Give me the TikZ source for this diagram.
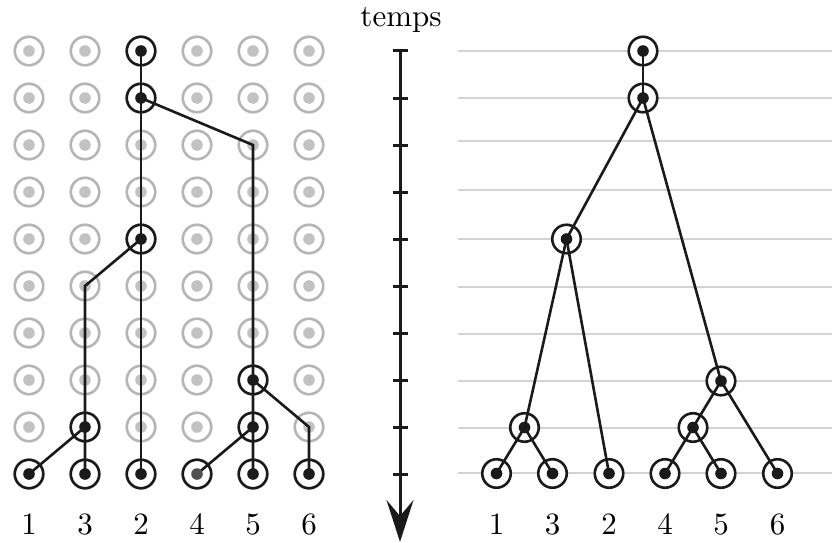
\documentclass[tikz,border=0pt]{standalone}
\usetikzlibrary{arrows.meta}
\definecolor{ringgray}{HTML}{B5B5B5}
\definecolor{dotgray}{HTML}{C2C2C2}
\definecolor{linegray}{HTML}{D3D3D3}
\definecolor{ink}{HTML}{1A1A1A}
\definecolor{darkdot}{HTML}{505050}
\newcommand\bigtxt[1]{\scalebox{3.1}{#1}}
\begin{document}
\begin{tikzpicture}[x=1pt,y=-1pt,
  ring/.style={circle,minimum size=28.5pt,inner sep=0pt,line width=2.6pt,fill=white},
  gring/.style={ring,draw=ringgray},
  bring/.style={ring,draw=ink},
  edge/.style={draw=ink,line width=2.6pt},
  hline/.style={draw=linegray,line width=2.8pt},
  tick/.style={draw=ink,line width=3pt},
  lbl/.style={font=\fontsize{10}{12}\selectfont,anchor=base,inner sep=0pt}]
\useasboundingbox (0,0) rectangle (832,543);

% right-hand horizontal grey lines
\foreach \y [count=\r from 0] in {51,98,141,190,239,287,334,381,428,473}{
  \coordinate (hl\r) at (458,\y);
  \coordinate (hr\r) at (832,\y);
  \draw[hline] (hl\r) -- (hr\r);
}

% left grid
\foreach \y [count=\r from 0] in {51,98,145,192,239,286,333,380,427,474}{
  \foreach \x [count=\c from 0] in {29,85,141,197,253,309}{
    \node[gring] (g\c-\r) at (\x,\y) {};
    \fill[dotgray] (g\c-\r.center) circle (5.8pt);
  }
}
\foreach \p in {2-0,2-1,2-4,4-7,1-8,4-8,0-9,1-9,2-9,3-9,4-9,5-9}{
  \node[bring] (b\p) at (g\p) {};
}

% right tree nodes
\node[bring] (L1) at (496.5,473.5) {};
\node[bring] (L3) at (552.5,473.5) {};
\node[bring] (L2) at (609,473.5) {};
\node[bring] (L4) at (665,473.5) {};
\node[bring] (L5) at (721,473.5) {};
\node[bring] (L6) at (777.5,473.5) {};
\node[bring] (n13) at (524.5,427.5) {};
\node[bring] (n45) at (693,427.5) {};
\node[bring] (n456) at (721,381) {};
\node[bring] (n132) at (566.5,239) {};
\node[bring] (c) at (643,98) {};
\node[bring] (root) at (643,51) {};

% left edges
\draw[edge] (g2-0.center) -- (g2-9.center);
\draw[edge] (g2-1.center) -- (g4-2.center) -- (g4-9.center);
\draw[edge] (g4-7.center) -- (g5-8.center) -- (g5-9.center);
\draw[edge] (g4-8.center) -- (g3-9.center);
\draw[edge] (g2-4.center) -- (g1-5.center) -- (g1-9.center);
\draw[edge] (g1-8.center) -- (g0-9.center);

% right edges
\draw[edge] (root.center) -- (c.center);
\draw[edge] (c.center) -- (n132.center);
\draw[edge] (c.center) -- (n456.center);
\draw[edge] (n132.center) -- (n13.center);
\draw[edge] (n132.center) -- (L2.center);
\draw[edge] (n13.center) -- (L1.center);
\draw[edge] (n13.center) -- (L3.center);
\draw[edge] (n456.center) -- (n45.center);
\draw[edge] (n456.center) -- (L6.center);
\draw[edge] (n45.center) -- (L4.center);
\draw[edge] (n45.center) -- (L5.center);

% dots
\foreach \p in {2-0,2-1,2-4,4-7,1-8,4-8,0-9,1-9,2-9,4-9,5-9}{
  \fill[ink] (b\p.center) circle (5.8pt);
}
\fill[darkdot] (b3-9.center) circle (5.8pt);
\foreach \n in {L1,L2,L3,L4,L5,L6,n13,n45,n456,n132,c,root}{
  \fill[ink] (\n.center) circle (5.8pt);
}

% labels
\foreach \t [count=\c from 0] in {1,3,2,4,5,6}{
  \node[lbl] (lab\c) at ([yshift=-60pt]b\c-9.center) {\bigtxt{\t}};
}
\foreach \t in {1,3,2,4,5,6}{
  \node[lbl] (rlab\t) at ([yshift=-60.5pt]L\t.center) {\bigtxt{\t}};
}

% time axis
\coordinate (ta) at (400,51);
\coordinate (tb) at (400,542);
\draw[draw=ink,line width=3pt,-{Stealth[length=42pt,width=27pt,inset=16pt]}] (ta) -- (tb);
\foreach \y [count=\r from 0] in {51,98,145,192,239,286,333,380,427,474}{
  \coordinate (tl\r) at (392.5,\y);
  \coordinate (tr\r) at (407.5,\y);
  \draw[tick] (tl\r) -- (tr\r);
}
\node[lbl] (temps) at (401,27) {\bigtxt{temps}};
\end{tikzpicture}
\end{document}
